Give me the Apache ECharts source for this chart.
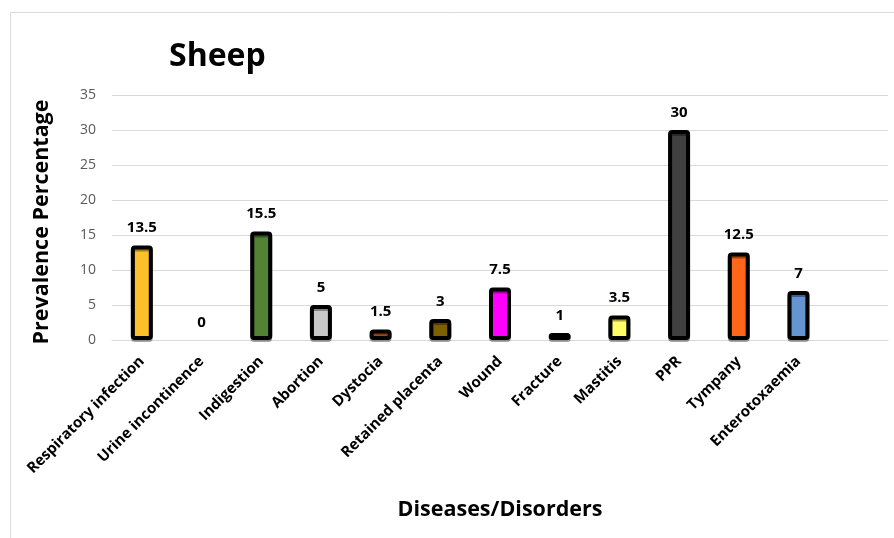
<!DOCTYPE html>
<html>
<head>
<meta charset="utf-8">
<script src="https://cdn.jsdelivr.net/npm/echarts@6/dist/echarts.min.js"></script>
<style>
  html, body { margin: 0; padding: 0; background: #fff; }
  #chart { width: 894px; height: 538px; }
</style>
</head>
<body>
<div id="chart"></div>
<script>
// Prevalence of diseases/disorders in sheep (%)
const categories = [
  'Respiratory infection', 'Urine incontinence', 'Indigestion', 'Abortion',
  'Dystocia', 'Retained placenta', 'Wound', 'Fracture', 'Mastitis',
  'PPR', 'Tympany', 'Enterotoxaemia'
];
const prevalence = [13.5, 0, 15.5, 5, 1.5, 3, 7.5, 1, 3.5, 30, 12.5, 7];
const barColors = [
  '#FBC12B', '#A5A5A5', '#548235', '#C9C9C9', '#C55A11', '#7F6000',
  '#FF00FF', '#33FFFF', '#FFFF66', '#404040', '#FF661A', '#6495D0'
];
const yTicks = [0, 5, 10, 15, 20, 25, 30, 35];

const FONT = '"Open Sans"';

const chart = echarts.init(document.getElementById('chart'));

const barData = prevalence.map((v, i) => ({
  value: v,
  itemStyle: {
    color: barColors[i],
    borderWidth: v === 0 ? 0 : 4
  }
}));

chart.setOption({
  animation: false,
  backgroundColor: '#fff',
  textStyle: { fontFamily: FONT },
  title: {
    text: 'Sheep',
    left: 164,
    top: 36,
    textStyle: { fontFamily: FONT, fontSize: 32, fontWeight: 'bold', color: '#000' }
  },
  graphic: [{
    type: 'rect',
    shape: { x: 10.5, y: 12.5, width: 1000, height: 1000 },
    style: { fill: 'none', stroke: '#d9d9d9', lineWidth: 1 },
    silent: true,
    z: -1
  }],
  grid: { left: 112, right: 6, top: 95, bottom: 198, containLabel: false },
  xAxis: {
    type: 'category',
    data: categories,
    max: categories.length,
    name: 'Diseases/Disorders',
    nameLocation: 'middle',
    nameGap: 159,
    nameTextStyle: { fontFamily: FONT, fontSize: 21.5, fontWeight: 'bold', color: '#000' },
    axisLine: { show: true, lineStyle: { color: '#d9d9d9', width: 1 } },
    axisTick: { show: false },
    axisLabel: {
      interval: 0,
      rotate: 45,
      margin: 19,
      fontFamily: FONT,
      fontSize: 15,
      fontWeight: 'bold',
      color: '#000'
    }
  },
  yAxis: {
    type: 'value',
    min: yTicks[0],
    max: yTicks[yTicks.length - 1],
    interval: 5,
    name: 'Prevalence Percentage',
    nameLocation: 'middle',
    nameGap: 59,
    nameTextStyle: {
      fontFamily: FONT, fontSize: 21.5, fontWeight: 'bold', color: '#000',
      padding: [0, 9, 0, 0]
    },
    axisLine: { show: false },
    axisTick: { show: false },
    axisLabel: { fontFamily: FONT, fontSize: 14, color: '#595959', margin: 16 },
    splitLine: { lineStyle: { color: '#d9d9d9', width: 1 } }
  },
  series: [{
    type: 'bar',
    data: barData,
    barWidth: 22,
    itemStyle: {
      borderColor: '#000',
      borderWidth: 4,
      borderRadius: 2,
      shadowColor: 'rgba(0,0,0,0.35)',
      shadowOffsetY: 2,
      shadowBlur: 0
    },
    label: {
      show: true,
      position: 'top',
      distance: 10,
      fontFamily: FONT,
      fontSize: 15,
      fontWeight: 'bold',
      color: '#000'
    }
  }]
});
</script>
</body>
</html>
